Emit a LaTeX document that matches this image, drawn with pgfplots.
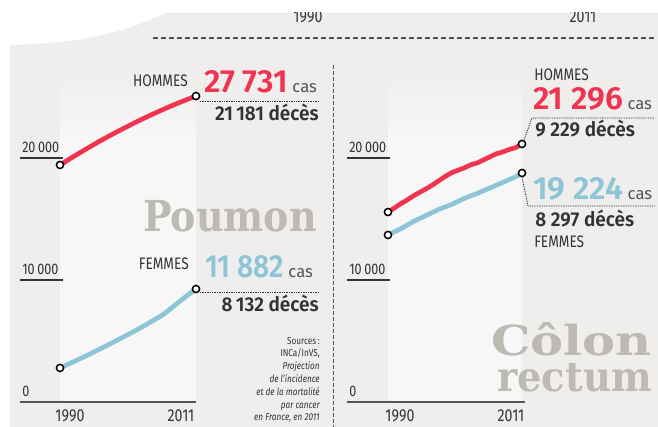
\documentclass[border=0pt]{standalone}
\usepackage{pgfplots}
\pgfplotsset{compat=1.18}
\usepackage{fontspec}
\setmainfont{Fira Sans}
\newfontfamily\cond{Fira Sans}[FakeStretch=0.82]
\newfontfamily\numf{Fira Sans SemiBold}
\newfontfamily\decf{Fira Sans SemiBold}[FakeStretch=0.95]
\newfontfamily\slab{DejaVu Serif}
\definecolor{bg}{HTML}{EFEEED}
\definecolor{lightbg}{HTML}{F7F7F7}
\definecolor{rouge}{HTML}{F0334F}
\definecolor{bleu}{HTML}{8DC5D6}
\definecolor{ink}{HTML}{333333}
\definecolor{grisT}{HTML}{BDB9B3}
\definecolor{casg}{HTML}{555555}
\newcommand\cas{\hspace{3.5pt}{\rmfamily\mdseries\color{casg}\fontsize{12.5}{14}\selectfont cas}}
\pgfplotsset{
  panel/.style={
    scale only axis, height=274.5pt,
    ymin=0, ymax=30000,
    axis x line=bottom, axis y line=left,
    x axis line style={-, draw=casg, line width=1pt},
    y axis line style={draw=none},
    xtick=\empty,
    ytick={0,10000,20000},
    yticklabels={0,10\,000,20\,000},
    scaled y ticks=false,
    tick align=inside,
    major tick length=32.25pt,
    ytick style={draw=ink, line width=0.8pt},
    yticklabel style={anchor=base west, inner sep=0pt, xshift=1.5pt, yshift=4pt,
      font=\cond\fontsize{11.5}{12}\selectfont, text=ink},
    clip=false,
  },
  ends/.style={only marks, mark=*, mark size=2.7pt,
    mark options={fill=white, draw=black, line width=1.1pt}},
}
\begin{document}
\begin{tikzpicture}[x=0.75pt,y=-0.75pt]
\useasboundingbox (0,0) rectangle (658,427);
% background
\fill[bg] (10,427) -- (10,45) .. controls (90,43) and (130,30) .. (165,13) -- (658,13) -- (658,427) -- cycle;
\fill[lightbg] (60,140) rectangle (196,402);
\shade[top color=bg,bottom color=lightbg] (60,70) rectangle (196,140.5);
\fill[lightbg] (388,140) rectangle (522,402);
\shade[top color=bg,bottom color=lightbg] (388,70) rectangle (522,140.5);
% top labels
\node[anchor=base, font=\cond\fontsize{13}{14}\selectfont, text=ink, inner sep=0pt] at (308,23) {1990};
\node[anchor=base, font=\cond\fontsize{13}{14}\selectfont, text=ink, inner sep=0pt] at (583,23) {2011};
\fill[white] (150,0) rectangle (658,12.5);
\draw[casg, line width=0.9pt, dash pattern=on 3.75pt off 2.25pt] (153,38) -- (655,38);
\draw[casg, line width=0.75pt, dash pattern=on 3pt off 1.5pt] (333,65) -- (333,427);
% big words
\node[anchor=base east, inner sep=0pt, text=grisT, font=\slab\bfseries\fontsize{32}{34}\selectfont] at (317,232) {\scalebox{0.89}[1]{Poumon}};
\node[anchor=south east, inner sep=0pt, align=right, text=grisT, font=\slab\bfseries\fontsize{31}{27}\selectfont] at (652,392) {\scalebox{1.2}[1]{Côlon}\\\scalebox{0.93}[1]{rectum}};

% LEFT PANEL : Poumon
\begin{axis}[panel, at={(15pt,-301.5pt)}, anchor=south west, width=132pt,
  xmin=1983.82, xmax=2011]
\addplot[rouge, line width=3.5pt, smooth] coordinates {
 (1990,19430) (1993,20410) (1996,21340) (1999,22200) (2002,23010)
 (2005,23760) (2008,24450) (2011,25080)};
\addplot[bleu, line width=3.5pt, smooth] coordinates {
 (1990,2790) (1992,3280) (1994,3780) (1996,4300) (1998,4840) (2000,5390)
 (2002,5950) (2004,6560) (2006,7200) (2008,8050) (2010,8870) (2011,9260)};
\addplot[ends] coordinates {(1990,19430) (2011,25080)};
\addplot[ends] coordinates {(1990,2790) (2011,9260)};
\end{axis}

% RIGHT PANEL : Colon rectum
\begin{axis}[panel, at={(260.25pt,-301.5pt)}, anchor=south west, width=133.5pt,
  xmin=1983.575, xmax=2011.47]
\addplot[rouge, line width=3.5pt] coordinates {
 (1990,15570) (1991,15900) (1992,16250) (1993,16560) (1994,16900) (1995,17200)
 (1996,17480) (1997,17800) (1998,18150) (1999,18500) (2000,18800) (2001,19000)
 (2002,19200) (2003,19450) (2004,19600) (2005,19850) (2006,20100) (2007,20350)
 (2008,20500) (2009,20700) (2010,20850) (2011,21150)};
\addplot[bleu, line width=3.5pt] coordinates {
 (1990,13690) (1991,13950) (1992,14200) (1993,14500) (1994,14800) (1995,15050)
 (1996,15300) (1997,15550) (1998,15800) (1999,16000) (2000,16200) (2001,16450)
 (2002,16700) (2003,16900) (2004,17100) (2005,17330) (2006,17550) (2007,17780)
 (2008,18000) (2009,18230) (2010,18450) (2011,18770)};
\addplot[ends] coordinates {(1990,15570) (2011,21150)};
\addplot[ends] coordinates {(1990,13690) (2011,18770)};
\end{axis}

% x labels
\foreach \xx/\tt in {70/1990,181/2011,400/1990,511/2011}
  \node[anchor=base, inner sep=0pt, text=ink, font=\cond\fontsize{13}{14}\selectfont] at (\xx,422) {\tt};

% leaders
\draw[ink, line width=0.6pt, dash pattern=on 1pt off 0.8pt] (200,101) -- (320,101);
\draw[ink, line width=0.6pt, dash pattern=on 1pt off 0.8pt] (200,292) -- (318,292);
\draw[ink, line width=0.6pt, dash pattern=on 1pt off 0.8pt] (524,140) -- (532,118) -- (655,118);
\draw[ink, line width=0.6pt, dash pattern=on 1pt off 0.8pt] (522,177) -- (528,206) -- (655,206);

% left labels
\node[anchor=base east, inner sep=0pt, text=ink, font=\cond\fontsize{12.5}{14}\selectfont] at (188,87) {HOMMES};
\node[anchor=base west, inner sep=0pt, text=rouge, font=\numf\fontsize{24}{26}\selectfont] at (204,93) {27 731\cas};
\node[anchor=base east, inner sep=0pt, text=ink, font=\decf\fontsize{15}{16}\selectfont] at (319,121) {21\,181 décès};
\node[anchor=base east, inner sep=0pt, text=ink, font=\cond\fontsize{12.5}{14}\selectfont] at (189,270) {FEMMES};
\node[anchor=base west, inner sep=0pt, text=bleu, font=\numf\fontsize{24}{26}\selectfont] at (205,278) {\scalebox{0.88}[1]{11 882}\cas};
\node[anchor=base east, inner sep=0pt, text=ink, font=\decf\fontsize{15}{16}\selectfont] at (319,312) {8\,132 décès};

% sources
\foreach \yy/\tt in {345/{Sources\,:},357/{INCa/InVS,}}
  \node[anchor=base east, inner sep=0pt, text=ink, font=\cond\fontsize{7.5}{8}\selectfont] at (320,\yy) {\tt};
\foreach \yy/\tt in {370/{Projection},383/{de l’incidence},396/{et de la mortalité},409/{par cancer},421/{en France, en 2011}}
  \node[anchor=base east, inner sep=0pt, text=ink, font=\cond\itshape\fontsize{7.5}{8}\selectfont] at (320,\yy) {\tt};

% right labels
\node[anchor=base west, inner sep=0pt, text=ink, font=\cond\fontsize{12.5}{14}\selectfont] at (534,81) {HOMMES};
\node[anchor=base west, inner sep=0pt, text=rouge, font=\numf\fontsize{24}{26}\selectfont] at (533,110) {21 296\cas};
\node[anchor=base west, inner sep=0pt, text=ink, font=\decf\fontsize{15}{16}\selectfont] at (535,137) {9 229 décès};
\node[anchor=base west, inner sep=0pt, text=bleu, font=\numf\fontsize{24}{26}\selectfont] at (533,200) {19 224\cas};
\node[anchor=base west, inner sep=0pt, text=ink, font=\decf\fontsize{15}{16}\selectfont] at (535,227) {8 297 décès};
\node[anchor=base west, inner sep=0pt, text=ink, font=\cond\fontsize{12.5}{14}\selectfont] at (534,248) {FEMMES};
\end{tikzpicture}
\end{document}
